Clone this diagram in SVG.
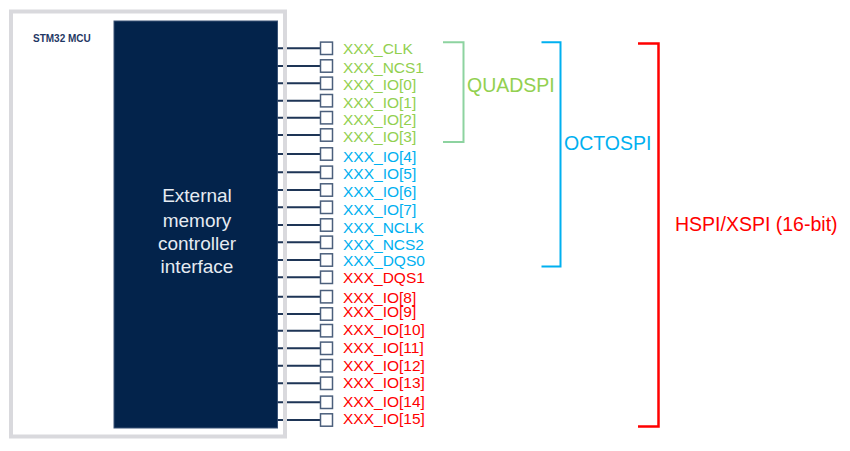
<svg xmlns="http://www.w3.org/2000/svg" width="850" height="451" viewBox="0 0 850 451">
<style>
.pin{fill:#ffffff;stroke:#4b5f7c;stroke-width:1.5}
.wire{stroke:#1e3556;stroke-width:2;fill:none}
.lbl{font-family:"Liberation Sans",Arial,sans-serif;font-size:15.5px}
.g{fill:#92d050}.b{fill:#00b0f0}.r{fill:#ff0000}
.big{font-family:"Liberation Sans",Arial,sans-serif;font-size:19.5px}
.inner{font-family:"Liberation Sans",Arial,sans-serif;font-size:19px;fill:#e6ebf2;text-anchor:middle}
</style>
<rect x="0" y="0" width="850" height="451" fill="#ffffff"/>
<g id="mcu-block">
<rect x="114" y="21" width="163.5" height="407" fill="#03234b" stroke="#3a5377" stroke-width="1"/>
<text class="inner" x="197" y="202.3">External</text>
<text class="inner" x="197" y="226.5">memory</text>
<text class="inner" x="197" y="249.5">controller</text>
<text class="inner" x="197" y="272.7">interface</text>
</g>
<g id="connectors">
<path class="wire" d="M277.5 48.3H320M277.5 66H320M277.5 83.3H320M277.5 100.7H320M277.5 117.7H320M277.5 135H320M277.5 154H320M277.5 172.3H320M277.5 190H320M277.5 207.3H320M277.5 225H320M277.5 242.3H320M277.5 260H320M277.5 277.3H320M277.5 296.7H320M277.5 314H320M277.5 330.7H320M277.5 348.3H320M277.5 365.7H320M277.5 383.3H320M277.5 402.3H320M277.5 420H320"/>
</g>
<g id="mcu-frame">
<rect x="11" y="11.5" width="274" height="425" fill="none" stroke="#d9d9dd" stroke-width="4"/>
<text x="33" y="42" font-family="'Liberation Sans',Arial,sans-serif" font-size="10" font-weight="bold" fill="#1f3864">STM32 MCU</text>
</g>
<g id="pins">
<rect class="pin" x="320.5" y="42.1" width="12" height="12.4"/>
<rect class="pin" x="320.5" y="59.8" width="12" height="12.4"/>
<rect class="pin" x="320.5" y="77.1" width="12" height="12.4"/>
<rect class="pin" x="320.5" y="94.5" width="12" height="12.4"/>
<rect class="pin" x="320.5" y="111.5" width="12" height="12.4"/>
<rect class="pin" x="320.5" y="128.8" width="12" height="12.4"/>
<rect class="pin" x="320.5" y="147.8" width="12" height="12.4"/>
<rect class="pin" x="320.5" y="166.1" width="12" height="12.4"/>
<rect class="pin" x="320.5" y="183.8" width="12" height="12.4"/>
<rect class="pin" x="320.5" y="201.1" width="12" height="12.4"/>
<rect class="pin" x="320.5" y="218.8" width="12" height="12.4"/>
<rect class="pin" x="320.5" y="236.1" width="12" height="12.4"/>
<rect class="pin" x="320.5" y="253.8" width="12" height="12.4"/>
<rect class="pin" x="320.5" y="271.1" width="12" height="12.4"/>
<rect class="pin" x="320.5" y="290.5" width="12" height="12.4"/>
<rect class="pin" x="320.5" y="307.8" width="12" height="12.4"/>
<rect class="pin" x="320.5" y="324.5" width="12" height="12.4"/>
<rect class="pin" x="320.5" y="342.1" width="12" height="12.4"/>
<rect class="pin" x="320.5" y="359.5" width="12" height="12.4"/>
<rect class="pin" x="320.5" y="377.1" width="12" height="12.4"/>
<rect class="pin" x="320.5" y="396.1" width="12" height="12.4"/>
<rect class="pin" x="320.5" y="413.8" width="12" height="12.4"/>
</g>
<g id="labels">
<text class="lbl g" x="343" y="54">XXX_CLK</text>
<text class="lbl g" x="343" y="72.5">XXX_NCS1</text>
<text class="lbl g" x="343" y="90">XXX_IO[0]</text>
<text class="lbl g" x="343" y="107.5">XXX_IO[1]</text>
<text class="lbl g" x="343" y="125">XXX_IO[2]</text>
<text class="lbl g" x="343" y="142">XXX_IO[3]</text>
<text class="lbl b" x="343" y="161.5">XXX_IO[4]</text>
<text class="lbl b" x="343" y="179.3">XXX_IO[5]</text>
<text class="lbl b" x="343" y="197">XXX_IO[6]</text>
<text class="lbl b" x="343" y="215">XXX_IO[7]</text>
<text class="lbl b" x="343" y="232.5">XXX_NCLK</text>
<text class="lbl b" x="343" y="249.5">XXX_NCS2</text>
<text class="lbl b" x="343" y="265.5">XXX_DQS0</text>
<text class="lbl r" x="343" y="282.5">XXX_DQS1</text>
<text class="lbl r" x="343" y="302.6">XXX_IO[8]</text>
<text class="lbl r" x="343" y="317.4">XXX_IO[9]</text>
<text class="lbl r" x="343" y="335">XXX_IO[10]</text>
<text class="lbl r" x="343" y="353.3">XXX_IO[11]</text>
<text class="lbl r" x="343" y="371">XXX_IO[12]</text>
<text class="lbl r" x="343" y="388.3">XXX_IO[13]</text>
<text class="lbl r" x="343" y="406.7">XXX_IO[14]</text>
<text class="lbl r" x="343" y="424">XXX_IO[15]</text>
</g>
<g id="quadspi">
<path d="M443 42.3H463.5V142H443" fill="none" stroke="#8dd3a0" stroke-width="2"/>
<text class="big" x="467" y="92" fill="#92d050">QUADSPI</text>
</g>
<g id="octospi">
<path d="M541.5 42.3H560.5V266.5H541.5" fill="none" stroke="#00b0f0" stroke-width="2"/>
<text class="big" x="564" y="149.5" fill="#00b0f0">OCTOSPI</text>
</g>
<g id="hspi-xspi">
<path d="M638 43.5H658.5V426.5H638" fill="none" stroke="#ff0000" stroke-width="2.5"/>
<text class="big" x="675" y="230.5" fill="#ff0000">HSPI/XSPI (16-bit)</text>
</g>
</svg>
